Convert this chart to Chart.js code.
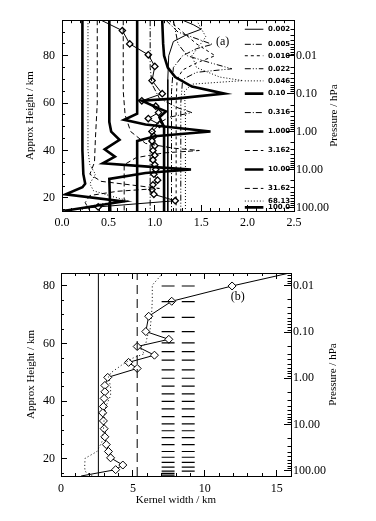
<!DOCTYPE html>
<html><head><meta charset="utf-8">
<script src="https://cdn.jsdelivr.net/npm/chart.js@4.4.1/dist/chart.umd.min.js"></script>
<style>
html,body{margin:0;padding:0;background:#fff;}
body{width:376px;height:521px;position:relative;overflow:hidden}
canvas{position:absolute;left:0}
</style></head><body>
<canvas id="chartA" width="376" height="240" style="top:0"></canvas>
<canvas id="chartB" width="376" height="271" style="top:250px"></canvas>
<script>
// ===================== DATA =====================
// Panel (a): kernel pressure levels (hPa) and labels
const pressureLevels = [0.002, 0.005, 0.010, 0.022, 0.046, 0.10, 0.316, 1.000, 3.162, 10.00, 31.62, 68.13, 100.0];
const levelLabels = ["0.002","0.005","0.010","0.022","0.046","0.10","0.316","1.000","3.162","10.00","31.62","68.13","100.0"];

// Panel (a) kernel curves: x value vs approx height (km)
const kZ_0002 = [95, 93, 91.2, 89, 86, 80, 70, 50, 14.5];
const kX_0002 = [1.30, 1.42, 1.50, 1.35, 1.20, 1.15, 1.14, 1.14, 1.14];
const kZ_0005 = [95, 90, 86.5, 84.8, 83, 80, 75, 65, 50, 14.5];
const kX_0005 = [1.12, 1.25, 1.50, 1.62, 1.45, 1.30, 1.20, 1.18, 1.18, 1.18];
const kZ_0010 = [95, 90, 85, 80, 77, 74, 70, 60, 40, 14.5];
const kX_0010 = [1.15, 1.30, 1.45, 1.65, 1.45, 1.30, 1.24, 1.23, 1.23, 1.23];
const kZ_0022 = [95, 85, 80, 77, 74.5, 73, 70, 60, 45, 14.5];
const kX_0022 = [1.20, 1.25, 1.35, 1.60, 1.83, 1.45, 1.30, 1.28, 1.28, 1.28];
const kZ_0046 = [95, 88, 80, 75, 71, 69.5, 68, 65, 55, 40, 14.5];
const kX_0046 = [1.45, 1.55, 1.40, 1.45, 1.70, 1.95, 1.40, 1.32, 1.33, 1.33, 1.33];
const kZ_010 = [95, 85, 80, 75, 71, 67, 64, 62, 61, 58.5, 56.5, 54, 50, 14.5];
const kX_010 = [1.08, 1.09, 1.10, 1.14, 1.22, 1.40, 1.75, 1.25, 0.86, 1.00, 1.12, 1.05, 1.10, 1.10];
const kZ_0316 = [95, 75, 68, 62, 58, 56, 54, 50, 45, 14.5];
const kX_0316 = [0.95, 0.95, 0.97, 1.05, 1.25, 1.40, 1.15, 0.98, 0.95, 0.95];
const kZ_1 = [95, 55.5, 53, 51, 48, 46, 44, 14.5];
const kX_1 = [0.81, 0.81, 0.67, 0.90, 1.60, 1.00, 0.81, 0.81];
const kZ_3162 = [95, 65, 55, 48, 43, 41, 40, 39, 37, 34, 14.5];
const kX_3162 = [0.66, 0.66, 0.68, 0.74, 0.90, 1.20, 1.48, 1.10, 0.80, 0.67, 0.67];
const kZ_10 = [95, 52, 48, 44.5, 40.5, 37.4, 34.6, 33, 32, 30.5, 28, 14.5];
const kX_10 = [0.51, 0.51, 0.53, 0.62, 0.46, 0.57, 0.44, 1.00, 1.39, 0.90, 0.51, 0.52];
const kZ_3162b = [95, 60, 45, 35, 30, 27, 25.2, 24, 22.8, 21, 18, 14.5];
const kX_3162b = [0.38, 0.38, 0.36, 0.35, 0.30, 0.42, 0.80, 1.05, 0.60, 0.30, 0.25, 0.30];
const kZ_6813 = [95, 40, 34, 30, 26, 23, 20.5, 18.7, 17.5, 16, 14.5];
const kX_6813 = [0.28, 0.28, 0.30, 0.36, 0.30, 0.34, 0.55, 0.72, 0.42, 0.25, 0.20];
const kZ_100 = [95, 40, 30, 26, 24.5, 21.5, 18.5, 14.6];
const kX_100 = [0.22, 0.22, 0.23, 0.25, 0.22, 0.04, 0.66, 0.03];

// Panel (a) diamond curve
const aDiaZ = [96, 90.6, 85, 80.4, 75.5, 69.5, 64, 61, 58.7, 56, 53.5, 51, 48, 46, 44, 42, 40, 38, 36, 34, 32, 30, 27.5, 25.5, 23.5, 21.5, 18.8, 16.2, 14.5];
const aDiaX = [0.37, 0.65, 0.73, 0.93, 1.00, 0.97, 1.08, 0.86, 1.01, 1.04, 0.93, 1.05, 0.97, 0.99, 0.97, 1.00, 0.98, 1.00, 0.98, 1.00, 1.01, 0.99, 1.03, 0.98, 0.97, 0.99, 1.22, 0.39, -0.04];

// Panel (b): kernel width (km) vs height
const bDiaZ = [84.5, 80.0, 74.7, 69.5, 64.2, 61.5, 59.0, 56.0, 53.5, 51.4, 48.3, 45.5, 43.3, 41.0, 38.2, 36.0, 33.2, 30.5, 27.7, 25.0, 22.6, 20.4, 17.9, 16.3, 14.1];
const bDiaX = [15.9, 11.9, 7.7, 6.1, 5.9, 7.5, 5.3, 6.5, 4.7, 5.3, 3.25, 3.05, 3.05, 3.0, 2.95, 2.9, 2.95, 3.0, 3.05, 3.15, 3.3, 3.45, 4.3, 3.8, 1.4];
const bDotZ = [84.5, 80.3, 75, 70, 65, 62.5, 60, 58.5, 56.5, 55, 52.5, 50, 48.5, 45, 42, 38, 34, 30, 26, 22.6, 20.2, 17.5, 15.7, 14.1];
const bDotX = [7.1, 6.35, 6.35, 6.3, 6.2, 6.0, 5.9, 5.5, 5.8, 5.0, 4.2, 3.5, 3.3, 3.45, 3.45, 3.1, 3.0, 2.95, 2.85, 2.5, 1.67, 1.65, 1.67, 2.2];
const bSolidRefX = 2.6;
const bDashRefX = 5.3;
const barLevels = [80.0, 74.6, 69.1, 64.2, 60.3, 57.2, 54.3, 50.9, 48.0, 45.3, 42.6, 40.0, 37.4, 34.7, 32.2, 29.8, 27.4, 25.0, 22.6, 20.6, 18.8, 17.2, 15.8];
const barCol1 = [7.0, 7.9];
const barCol2 = [8.4, 9.3];
const barCol1Extra = [15.0, 14.4];

// Axis ticks
const xTicksA = [0, 0.5, 1.0, 1.5, 2.0, 2.5];
const xTicksB = [0, 5, 10, 15];
const heightTicks = [20, 40, 60, 80];
const pressureTicks = [0.01, 0.1, 1, 10, 100];
const pressureTickLabels = ["0.01", "0.10", "1.00", "10.00", "100.00"];

// ===================== HELPERS =====================
const Z2P = z => 1000 * Math.pow(10, -z / 16);
const P2Z = p => 16 * Math.log10(1000 / p);
function range(a, b, st) { const o = []; for (let v = a; v <= b + 1e-9; v += st) o.push(+v.toFixed(6)); return o; }
function logMinors(min, max) { const o = []; for (let e = -4; e <= 3; e++) for (let k = 2; k <= 9; k++) { const v = k * Math.pow(10, e); if (v >= min && v <= max) o.push(v); } return o; }
function setTicks(vals) { return s => { s.ticks = vals.filter(v => v >= s.min - 1e-9 && v <= s.max + 1e-9).map(v => ({ value: v })); }; }
function pts(xs, zs) { return zs.map((z, i) => ({ x: xs[i], y: z })); }

Chart.defaults.font.family = "'Liberation Serif', serif";
Chart.defaults.color = '#000';

const tickFont = { family: "'Liberation Serif', serif", size: 12 };
const titleFont = { family: "'Liberation Serif', serif", size: 11 };

function makeScales(o) {
  const g = (len) => ({ drawOnChartArea: false, color: '#000', lineWidth: 1, tickLength: len });
  const pMin = Z2P(o.zMax), pMax = Z2P(o.zMin);
  return {
    x: { type: 'linear', position: 'bottom', weight: 1, min: o.xMin, max: o.xMax,
      afterBuildTicks: setTicks(o.xMajor),
      ticks: { callback: o.xFmt, font: tickFont, color: '#000', padding: o.xPad, maxRotation: 0, autoSkip: false },
      grid: g(-6), border: { display: true, color: '#000', width: 1 },
      title: o.xTitle ? { display: true, text: o.xTitle, font: titleFont, color: '#000', padding: { top: 0, bottom: o.xTitlePad } } : { display: false },
      afterFit: s => { s.height = o.bottomH; } },
    xm: { type: 'linear', position: 'bottom', weight: 0, min: o.xMin, max: o.xMax,
      afterBuildTicks: setTicks(o.xMinor), ticks: { display: false }, grid: g(-3), border: { display: false },
      afterFit: s => { s.height = 0; } },
    xt: { type: 'linear', position: 'top', weight: 1, min: o.xMin, max: o.xMax,
      afterBuildTicks: setTicks(o.xMajor), ticks: { display: false }, grid: g(-6), border: { display: true, color: '#000', width: 1 },
      afterFit: s => { s.height = 0; } },
    xtm: { type: 'linear', position: 'top', weight: 0, min: o.xMin, max: o.xMax,
      afterBuildTicks: setTicks(o.xMinor), ticks: { display: false }, grid: g(-3), border: { display: false },
      afterFit: s => { s.height = 0; } },
    y: { type: 'linear', position: 'left', weight: 1, min: o.zMin, max: o.zMax,
      afterBuildTicks: setTicks(heightTicks),
      ticks: { callback: v => String(v), font: tickFont, color: '#000', padding: o.yPad, autoSkip: false },
      grid: g(-6), border: { display: true, color: '#000', width: 1 },
      title: { display: true, text: 'Approx Height / km', font: titleFont, color: '#000', padding: { top: o.yTitlePad, bottom: 0 } },
      afterFit: s => { s.width = o.leftW; } },
    ym: { type: 'linear', position: 'left', weight: 0, min: o.zMin, max: o.zMax,
      afterBuildTicks: setTicks(range(15, 95, 5)), ticks: { display: false }, grid: g(-3), border: { display: false },
      afterFit: s => { s.width = 0; } },
    p: { type: 'logarithmic', position: 'right', weight: 1, reverse: true, min: pMin, max: pMax,
      afterBuildTicks: setTicks(pressureTicks),
      ticks: { callback: v => { const i = pressureTicks.findIndex(t => Math.abs(t - v) / t < 1e-6); return i >= 0 ? pressureTickLabels[i] : ''; },
        font: tickFont, color: '#000', padding: o.pPad, autoSkip: false },
      grid: g(-7), border: { display: true, color: '#000', width: 1 },
      afterFit: s => { s.width = o.rightW; } },
    pm: { type: 'logarithmic', position: 'right', weight: 0, reverse: true, min: pMin, max: pMax,
      afterBuildTicks: setTicks(logMinors(pMin, pMax)), ticks: { display: false }, grid: g(-3.5), border: { display: false },
      afterFit: s => { s.width = 0; } }
  };
}

const overlay = {
  id: 'overlay',
  afterDatasetsDraw(chart, args, opts) {
    const ctx = chart.ctx, xs = chart.scales.x, ys = chart.scales.y, ca = chart.chartArea;
    ctx.save();
    ctx.fillStyle = '#000';
    (opts.labels || []).forEach(l => {
      ctx.font = l.font; ctx.textAlign = l.align || 'left'; ctx.textBaseline = 'middle';
      ctx.fillText(l.text, xs.getPixelForValue(l.x), ys.getPixelForValue(l.z));
    });
    ctx.translate(opts.rightTitleX, (ca.top + ca.bottom) / 2);
    ctx.rotate(-Math.PI / 2);
    ctx.textAlign = 'center'; ctx.textBaseline = 'middle';
    ctx.font = "11px 'Liberation Serif', serif";
    ctx.fillText('Pressure / hPa', 0, 0);
    ctx.restore();
  }
};

function line(data, w, dash, extra) {
  return Object.assign({ data, borderColor: '#000', borderWidth: w, borderDash: dash || [], pointRadius: 0,
    fill: false, tension: 0, spanGaps: false, xAxisID: 'x', yAxisID: 'y' }, extra || {});
}

// ===================== PANEL A =====================
const levelStyles = [
  { w: 1, dash: [] },               // 0.002
  { w: 1, dash: [6, 2, 1, 2] },     // 0.005
  { w: 1, dash: [3, 3] },           // 0.010
  { w: 1, dash: [6, 2, 1, 2, 1, 2] }, // 0.022
  { w: 1, dash: [1, 2] },           // 0.046
  { w: 2.6, dash: [] },             // 0.10
  { w: 1, dash: [6, 2, 1, 2] },     // 0.316
  { w: 2.6, dash: [] },             // 1.000
  { w: 1, dash: [5, 3] },           // 3.162
  { w: 2.6, dash: [] },             // 10.00
  { w: 1, dash: [5, 3] },           // 31.62
  { w: 1, dash: [1, 2] },           // 68.13
  { w: 2.6, dash: [] }              // 100.0
];
const kernelSeries = [
  [kX_0002, kZ_0002], [kX_0005, kZ_0005], [kX_0010, kZ_0010], [kX_0022, kZ_0022], [kX_0046, kZ_0046],
  [kX_010, kZ_010], [kX_0316, kZ_0316], [kX_1, kZ_1], [kX_3162, kZ_3162], [kX_10, kZ_10],
  [kX_3162b, kZ_3162b], [kX_6813, kZ_6813], [kX_100, kZ_100]
];
const legendLineX = [1.97, 2.17];
const legendTextX = 2.22;

const dsA = [];
kernelSeries.forEach((s, i) => dsA.push(line(pts(s[0], s[1]), levelStyles[i].w, levelStyles[i].dash)));
pressureLevels.forEach((p, i) => {
  const z = P2Z(p);
  dsA.push(line([{ x: legendLineX[0], y: z }, { x: legendLineX[1], y: z }], levelStyles[i].w, levelStyles[i].dash));
});
const endless = c => (c.dataIndex === 0 || c.dataIndex === c.dataset.data.length - 1) ? 0 : 3.2;
dsA.push(line(pts(aDiaX, aDiaZ), 1, [], { pointStyle: 'rectRot', pointRadius: endless, pointBorderColor: '#000', pointBackgroundColor: '#fff', pointBorderWidth: 1.3 }));

const labelsA = pressureLevels.map((p, i) => ({ text: levelLabels[i], x: legendTextX, z: P2Z(p), font: "bold 7px 'DejaVu Sans', sans-serif" }));
labelsA.push({ text: '(a)', x: 1.73, z: 85.9, font: "12px 'Liberation Serif', serif", align: 'center' });

new Chart(document.getElementById('chartA'), {
  type: 'line',
  data: { datasets: dsA },
  plugins: [overlay],
  options: {
    responsive: false, animation: false, events: [],
    layout: { padding: { top: 7, left: 0, right: 0, bottom: 0 } },
    plugins: { legend: { display: false }, tooltip: { enabled: false },
      overlay: { labels: labelsA, rightTitleX: 334 } },
    scales: makeScales({ xMin: 0, xMax: 2.5, xMajor: xTicksA, xMinor: range(0, 2.5, 0.1), xFmt: v => v.toFixed(1), xPad: 11,
      zMin: 14.47, zMax: 95.0, bottomH: 29, leftW: 62, rightW: 82, yPad: 13, pPad: 9, yTitlePad: 24 })
  }
});

// ===================== PANEL B =====================
function barData(col, levels) {
  const d = [];
  levels.forEach(z => { d.push({ x: col[0], y: z }, { x: col[1], y: z }, { x: col[1], y: NaN }); });
  return d;
}
const zMinB = 14.1, zMaxB = 84.5;
const dsB = [
  line([{ x: bSolidRefX, y: zMinB }, { x: bSolidRefX, y: zMaxB }], 1, []),
  line([{ x: bDashRefX, y: zMinB }, { x: bDashRefX, y: zMaxB }], 1, [9, 5]),
  line(barData(barCol1, barLevels.concat(barCol1Extra)), 1.2, []),
  line(barData(barCol2, barLevels), 1.2, []),
  line(pts(bDotX, bDotZ), 1, [1, 2.5]),
  line(pts(bDiaX, bDiaZ), 1, [], { pointStyle: 'rectRot', pointRadius: c => (c.dataIndex === 0 || c.dataIndex === c.dataset.data.length - 1) ? 0 : 4, pointBorderColor: '#000', pointBackgroundColor: '#fff', pointBorderWidth: 1 })
];
const labelsB = [{ text: '(b)', x: 12.3, z: 76.2, font: "12px 'Liberation Serif', serif", align: 'center' }];

new Chart(document.getElementById('chartB'), {
  type: 'line',
  data: { datasets: dsB },
  plugins: [overlay],
  options: {
    responsive: false, animation: false, events: [],
    layout: { padding: { top: 23, left: 0, right: 0, bottom: 0 } },
    plugins: { legend: { display: false }, tooltip: { enabled: false },
      overlay: { labels: labelsB, rightTitleX: 333 } },
    scales: makeScales({ xMin: 0, xMax: 16, xMajor: xTicksB, xMinor: range(0, 16, 1), xFmt: v => String(v), xPad: 12,
      xTitle: 'Kernel width / km', xTitlePad: 14,
      zMin: zMinB, zMax: zMaxB, bottomH: 45, leftW: 61, rightW: 85, yPad: 12, pPad: 9, yTitlePad: 25 })
  }
});
</script>
</body></html>
